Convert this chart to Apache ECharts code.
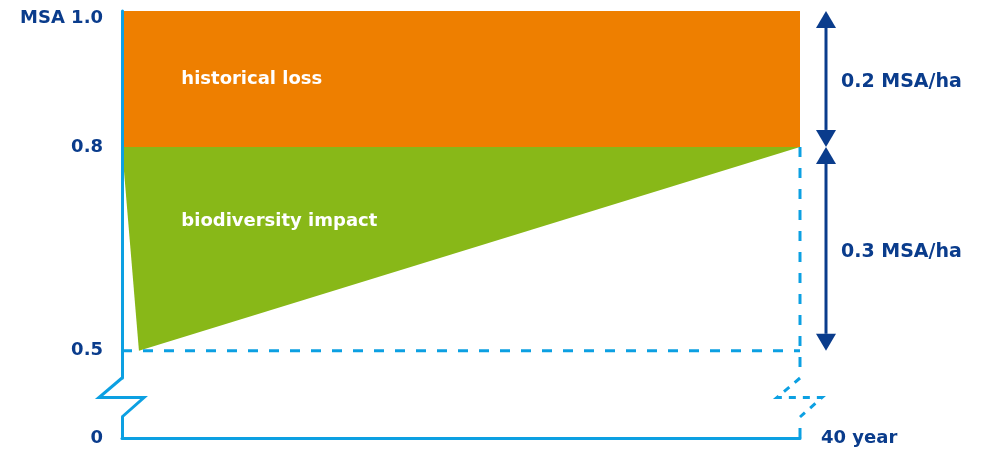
<!DOCTYPE html>
<html>
<head>
<meta charset="utf-8">
<script src="https://cdn.jsdelivr.net/npm/echarts@6/dist/echarts.min.js"></script>
<style>
  html, body { margin: 0; padding: 0; background: #fff; }
  #chart { width: 984px; height: 450px; }
</style>
</head>
<body>
<div id="chart"></div>
<script>
// values
const historicalLoss = [[0, 1.0], [40, 1.0], [40, 0.8], [0, 0.8]];
const biodiversityImpact = [[0, 0.8], [1, 0.5], [40, 0.8]];
const baseline = [[0, 0.5], [40, 0.5]];
const yLabelValues = [0.5, 0.8, 1.0];
const arrowSpans = [[1.0, 0.8], [0.8, 0.5]];
const arrowLabels = ['0.2 MSA/ha', '0.3 MSA/ha'];
const endYear = 40;

const NAVY = '#0a3c8c';
const BLUE = '#0ca0e2';
const ORANGE = '#ee7f00';
const GREEN = '#88b818';
const FONT = '"DejaVu Sans", Verdana, sans-serif';
const DASH = [10, 11];

// axis is broken between these two values
const breakTop = 0.46;
const breakBottom = 0.03;

const chart = echarts.init(document.getElementById('chart'));

function areaSeries(points, color, text, at) {
  return {
    type: 'custom',
    xAxisIndex: 0,
    yAxisIndex: 0,
    data: points,
    silent: true,
    z: 2,
    renderItem: function (params, api) {
      if (params.dataIndex !== 0) return null;
      const tp = api.coord(at);
      return {
        type: 'group',
        children: [
          { type: 'polygon', shape: { points: points.map(p => api.coord(p)) }, style: { fill: color } },
          { type: 'text', x: tp[0], y: tp[1],
            style: { text: text, fill: '#fff', font: 'bold 18px ' + FONT, verticalAlign: 'middle' } }
        ]
      };
    }
  };
}

function dashed(data, xi) {
  return {
    type: 'line',
    xAxisIndex: xi,
    yAxisIndex: xi,
    data: data,
    symbol: 'none',
    silent: true,
    z: 3,
    lineStyle: { color: BLUE, width: 3, type: DASH }
  };
}

const labelStyle = { color: NAVY, fontFamily: FONT, fontWeight: 'bold', fontSize: 18 };

const option = {
  animation: false,
  backgroundColor: '#fff',
  grid: [
    { left: 122, right: 184, top: 11, height: 367 },
    { left: 122, right: 184, top: 417, height: 21 }
  ],
  xAxis: [
    { gridIndex: 0, type: 'value', min: 0, max: endYear, show: false },
    {
      gridIndex: 1, type: 'value', min: 0, max: endYear,
      axisLine: { lineStyle: { color: BLUE, width: 3 } },
      axisTick: { show: false }, axisLabel: { show: false }, splitLine: { show: false },
      name: endYear + ' year', nameLocation: 'end', nameGap: 21,
      nameTextStyle: labelStyle
    }
  ],
  yAxis: [
    {
      gridIndex: 0, type: 'value', min: breakTop, max: 1.0, z: 5,
      axisLine: { show: true, lineStyle: { color: BLUE, width: 3 } },
      axisTick: { show: false }, splitLine: { show: false },
      axisLabel: {
        customValues: yLabelValues, margin: 19,
        ...labelStyle,
        formatter: v => v === 1 ? '{top|MSA 1.0}' : v.toFixed(1),
        rich: { top: { ...labelStyle, padding: [14, 0, 0, 0] } }
      }
    },
    {
      gridIndex: 1, type: 'value', min: 0, max: breakBottom, z: 5,
      axisLine: { show: true, lineStyle: { color: BLUE, width: 3 } },
      axisTick: { show: false }, splitLine: { show: false },
      axisLabel: { customValues: [0], margin: 19, ...labelStyle, formatter: () => '0' }
    }
  ],
  series: [
    areaSeries(historicalLoss, ORANGE, 'historical loss', [3.5, 0.9]),
    areaSeries(biodiversityImpact, GREEN, 'biodiversity impact', [3.5, 0.69]),
    dashed(baseline, 0),
    dashed([[endYear, 0.8], [endYear, breakTop]], 0),
    dashed([[endYear, 0], [endYear, breakBottom]], 1)
  ]
};

chart.setOption(option);

// zigzags where the axis is broken, and the span arrows on the right
const graphics = [];
[[0, null], [endYear, [7, 7]]].forEach(([xv, dash]) => {
  const a = chart.convertToPixel({ gridIndex: 0 }, [xv, breakTop]);
  const b = chart.convertToPixel({ gridIndex: 1 }, [xv, breakBottom]);
  const mid = (a[1] + b[1]) / 2;
  graphics.push({
    type: 'polyline', silent: true, z: 10,
    shape: { points: [a, [a[0] - 23, mid], [a[0] + 22, mid], b] },
    style: { stroke: BLUE, lineWidth: 3, lineDash: dash, fill: null }
  });
});

const ax = chart.convertToPixel({ gridIndex: 0 }, [endYear, 1])[0] + 26;
arrowSpans.forEach(([from, to], i) => {
  const y1 = chart.convertToPixel({ gridIndex: 0 }, [0, from])[1];
  const y2 = chart.convertToPixel({ gridIndex: 0 }, [0, to])[1];
  const h = 17, w = 10;
  graphics.push(
    { type: 'line', silent: true, shape: { x1: ax, y1: y1 + h, x2: ax, y2: y2 - h },
      style: { stroke: NAVY, lineWidth: 3 } },
    { type: 'polygon', silent: true, shape: { points: [[ax, y1], [ax - w, y1 + h], [ax + w, y1 + h]] },
      style: { fill: NAVY } },
    { type: 'polygon', silent: true, shape: { points: [[ax, y2], [ax - w, y2 - h], [ax + w, y2 - h]] },
      style: { fill: NAVY } },
    { type: 'text', silent: true, x: ax + 15, y: (y1 + y2) / 2 + 3,
      style: { text: arrowLabels[i], fill: NAVY, font: 'bold 19px ' + FONT, verticalAlign: 'middle' } }
  );
});

chart.setOption({ graphic: graphics });
</script>
</body>
</html>
